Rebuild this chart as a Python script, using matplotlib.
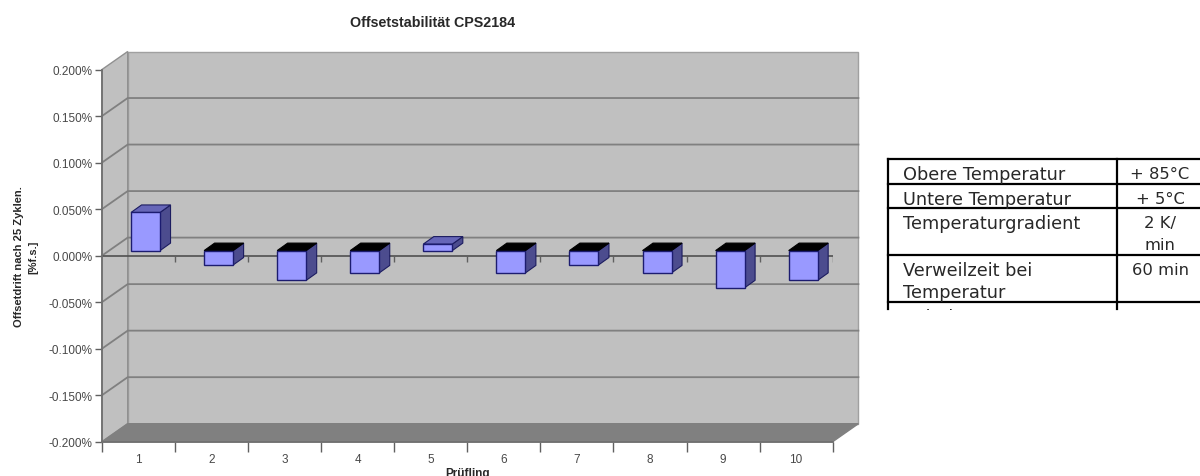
"""Offset stability chart, faux 3D column style, with the test conditions table."""

import matplotlib

matplotlib.use("Agg")
import matplotlib.pyplot as plt
from matplotlib.patches import Polygon, Rectangle
from matplotlib.ticker import FuncFormatter

plt.rcParams["font.family"] = ["Liberation Sans", "DejaVu Sans"]

# chart data
specimens = [1, 2, 3, 4, 5, 6, 7, 8, 9, 10]
drift = [0.041, -0.0155, -0.032, -0.024, 0.007, -0.024, -0.0155, -0.024, -0.040, -0.032]
y_ticks = [0.2, 0.15, 0.1, 0.05, 0.0, -0.05, -0.1, -0.15, -0.2]

# table data
row_labels = [
    ["Obere Temperatur"],
    ["Untere Temperatur"],
    ["Temperaturgradient"],
    ["Verweilzeit bei", "Temperatur"],
    ["Relative"],
]
row_values = [["+ 85°C"], ["+ 5°C"], ["2 K/", "min"], ["60 min"], ["85%"]]

W, H = 1200, 477
# front plane of the plot box, in pixels
LEFT, RIGHT, TOP, BOTTOM = 102, 832.7, 70.5, 442.7
PX_X = (RIGHT - LEFT) / 10
PX_Y = (BOTTOM - TOP) / 0.4

# depth of the box and of the bars, in data units
DEPTH_X = 25.7 / PX_X
DEPTH_Y = 18.0 / PX_Y
BAR_X = 29.0 / PX_X
BAR_SHIFT = 7.0 / PX_X
BAR_BASE = 5.0 / PX_Y
BAR_DX = 10.5 / PX_X
BAR_DY = 7.5 / PX_Y

WALL = "#c0c0c0"
FLOOR = "#808080"
GRID = "#808080"
TEXT = "#484848"

fig = plt.figure(figsize=(W / 100, H / 100), dpi=100)
ax = fig.add_axes([LEFT / W, 1 - BOTTOM / H, (RIGHT - LEFT) / W, (BOTTOM - TOP) / H])
ax.set_xlim(0.5, 10.5)
ax.set_ylim(-0.2, 0.2)
ax.patch.set_visible(False)

x0, x1 = 0.5, 10.5
# back wall, side wall, floor
ax.add_patch(Polygon([(x0 + DEPTH_X, -0.2 + DEPTH_Y), (x1 + DEPTH_X, -0.2 + DEPTH_Y),
                      (x1 + DEPTH_X, 0.2 + DEPTH_Y), (x0 + DEPTH_X, 0.2 + DEPTH_Y)],
                     fc=WALL, ec="#a0a0a0", lw=1, clip_on=False, zorder=1))
ax.add_patch(Polygon([(x0, -0.2), (x0 + DEPTH_X, -0.2 + DEPTH_Y),
                      (x0 + DEPTH_X, 0.2 + DEPTH_Y), (x0, 0.2)],
                     fc=WALL, ec="#909090", lw=1, clip_on=False, zorder=1))
ax.add_patch(Polygon([(x0, -0.2), (x1, -0.2), (x1 + DEPTH_X, -0.2 + DEPTH_Y),
                      (x0 + DEPTH_X, -0.2 + DEPTH_Y)],
                     fc=FLOOR, ec=FLOOR, lw=1, clip_on=False, zorder=1.5))

# grid lines run over the side wall and along the back wall
for v in y_ticks[1:-1]:
    ax.plot([x0, x0 + DEPTH_X, x1 + DEPTH_X], [v, v + DEPTH_Y, v + DEPTH_Y],
            color=GRID, lw=1.3, clip_on=False, zorder=2, solid_joinstyle="miter")

# zero axis with its ticks
ax.plot([x0, x1], [0, 0], color="#505050", lw=1.2, zorder=3)
ax.vlines([x0 + i for i in range(1, 11)], -6.5 / PX_Y, 0, color="#606060", lw=1, zorder=3)

for x, v in zip(specimens, drift):
    bl = x - BAR_X / 2 + BAR_SHIFT
    br = bl + BAR_X
    base = BAR_BASE
    top = base + max(v, 0)
    low = base + min(v, 0)
    top_color = "#6666b8" if v > 0 else "#000000"
    ax.add_patch(Polygon([(br, low), (br + BAR_DX, low + BAR_DY),
                          (br + BAR_DX, top + BAR_DY), (br, top)],
                         fc="#4c4c8e", ec="#1c1c60", lw=0.8, clip_on=False, zorder=4))
    ax.add_patch(Polygon([(bl, top), (br, top), (br + BAR_DX, top + BAR_DY),
                          (bl + BAR_DX, top + BAR_DY)],
                         fc=top_color, ec="#1c1c60" if v > 0 else "#000000", lw=0.8,
                         clip_on=False, zorder=4))
    ax.add_patch(Rectangle((bl, low), BAR_X, top - low, fc="#9999ff", ec="#1c1c70",
                           lw=1, clip_on=False, zorder=5))

for side in ["top", "right"]:
    ax.spines[side].set_visible(False)
for side in ["left", "bottom"]:
    ax.spines[side].set_color("#707070")
    ax.spines[side].set_linewidth(1.3)
    ax.spines[side].set_zorder(6)

ax.set_yticks(y_ticks)
ax.yaxis.set_major_formatter(FuncFormatter(lambda v, _: f"{v:.3f}%"))
ax.set_xticks(specimens)
ax.set_xticks([x0 + i for i in range(11)], minor=True)
ax.tick_params(axis="x", which="major", length=0, pad=8, labelsize=8.5, labelcolor=TEXT)
ax.tick_params(axis="x", which="minor", length=7, width=1, color="#606060")
ax.tick_params(axis="y", length=5, width=1, color="#606060", pad=2, labelsize=8.5,
               labelcolor=TEXT)

fig.text(433 / W, 1 - 23 / H, "Offsetstabilität CPS2184", fontsize=10.3, fontweight="bold",
         ha="center", va="center", color="#282828")
fig.text(468 / W, 1 - 474 / H, "Prüfling", fontsize=8.5, fontweight="bold", ha="center",
         va="center", color="#282828")
fig.text(26.5 / W, 1 - 257 / H, "Offsetdrift nach 25 Zyklen.\n[%f.s.]", fontsize=8,
         fontweight="bold", rotation=90, ha="center", va="center", linespacing=1.5,
         color="#282828")

# conditions table, laid out in pixels
tb = fig.add_axes([0, 0, 1, 1])
tb.set_xlim(0, W)
tb.set_ylim(H, 0)
tb.axis("off")

row_edges = [160, 184.5, 209, 256, 302.5]
# the y axis is flipped here, so the height is negative to keep the clip box upright
clip = Rectangle((880, 310.5), 320, -160.5, transform=tb.transData)
line_height = 22
for edge in row_edges:
    tb.plot([888, 1200], [edge, edge], color="black", lw=1.6)
tb.plot([888, 888], [160, 310], color="black", lw=1.6)
tb.plot([1116.7, 1116.7], [160, 310], color="black", lw=1.6)

for edge, labels, values in zip(row_edges, row_labels, row_values):
    for i, s in enumerate(labels):
        t = tb.text(903, edge + 15.5 + i * line_height, s, fontsize=12.8, ha="left",
                    va="center", color="#282828", family="DejaVu Sans", clip_on=True)
        t.set_clip_path(clip)
    for i, s in enumerate(values):
        t = tb.text(1160, edge + 15 + i * line_height, s, fontsize=11.8, ha="center",
                    va="center", color="#282828", family="DejaVu Sans", clip_on=True)
        t.set_clip_path(clip)

fig.savefig("out.png", dpi=100)
